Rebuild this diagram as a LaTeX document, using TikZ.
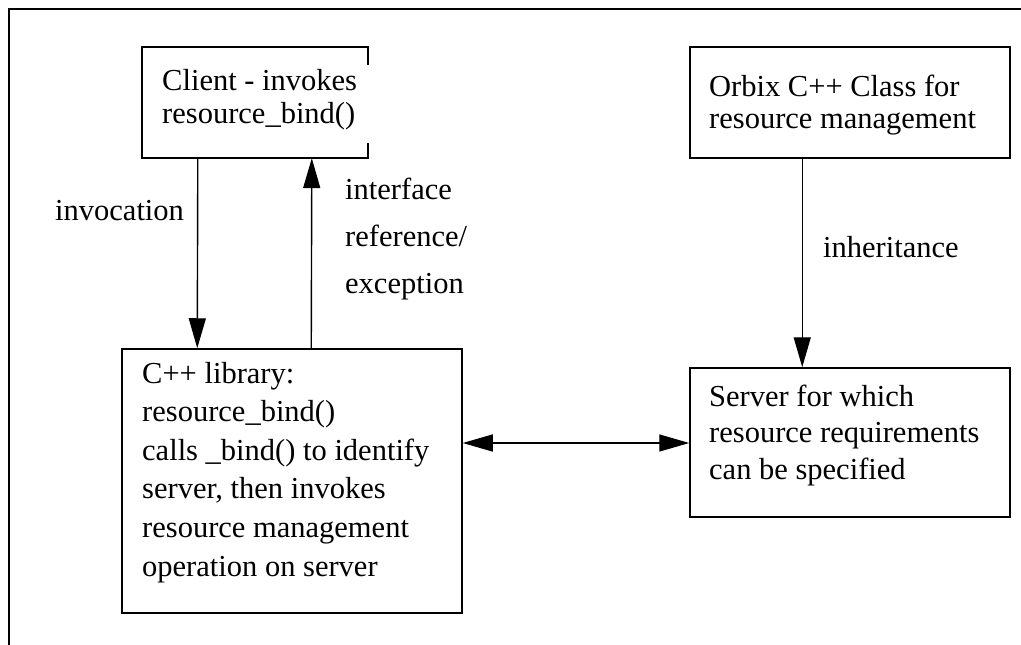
\documentclass[tikz,border=0pt]{standalone}
\usepackage{fontspec}
\setmainfont{Liberation Serif}
\usetikzlibrary{arrows.meta}
\begin{document}
\begin{tikzpicture}[x=1pt,y=-1pt,
  lw/.style={line width=1.5pt},
  box/.style={lw, draw, inner sep=0pt},
  nobox/.style={inner sep=0pt},
  txt/.style={anchor=base west, inner sep=0pt, font=\fontsize{30.5}{33}\selectfont},
  arr/.style={line width=1.4pt, -{Triangle[length=30pt,width=17pt]}},
  darr/.style={line width=1.4pt, {Triangle[length=30pt,width=17pt]}-{Triangle[length=30pt,width=17pt]}},
]
\useasboundingbox (0,0) rectangle (1021,645);
\draw[lw] (9,645) -- (9,9) -- (1021,9);

% boxes
\node[nobox, minimum width=226pt, minimum height=111pt] (client) at (255,102.5) {};
\draw[lw] ([yshift=-18pt]client.north east) -- (client.north east) -- (client.north west)
   -- (client.south west) -- (client.south east) -- ([yshift=15pt]client.south east);
\node[box, minimum width=340pt, minimum height=264pt] (lib) at (292,481) {};
\node[box, minimum width=320pt, minimum height=111pt] (orbix) at (850,102.5) {};
\node[box, minimum width=320pt, minimum height=149pt] (server) at (850,442.5) {};

% texts
\node[txt] (c1) at (162,90) {Client - invokes};
\node[txt] (c2) at (162,123) {resource\_bind()};

\node[txt] (o1) at (709,96) {Orbix C++ Class for};
\node[txt] (o2) at (709,128) {resource management};

\node[txt] (l1) at (142,383) {C++ library:};
\node[txt] (l2) at (142,421.6) {resource\_bind()};
\node[txt] (l3) at (142,460.2) {calls \_bind() to identify};
\node[txt] (l4) at (142,498.8) {server, then invokes};
\node[txt] (l5) at (142,537.4) {resource management};
\node[txt] (l6) at (142,576) {operation on server};

\node[txt] (s1) at (709,406) {Server for which};
\node[txt] (s2) at (709,442) {resource requirements};
\node[txt] (s3) at (709,479) {can be specified};

\node[txt] (inv) at (55,220) {invocation};
\node[txt] (if1) at (345,199) {interface};
\node[txt] (if2) at (345,246) {reference/};
\node[txt] (if3) at (345,293) {exception};
\node[txt] (inh) at (823,257) {inheritance};

% connectors
\draw[arr] ([xshift=56pt]client.south west) -- ([xshift=76pt]lib.north west);
\draw[arr] ([xshift=190pt]lib.north west) -- ([xshift=170pt]client.south west);
\draw[arr] ([xshift=113pt]orbix.south west) -- ([xshift=113pt]server.north west);
\draw[darr] ([yshift=38pt]lib.east) -- ([yshift=-0.5pt]server.west);
\end{tikzpicture}
\end{document}
